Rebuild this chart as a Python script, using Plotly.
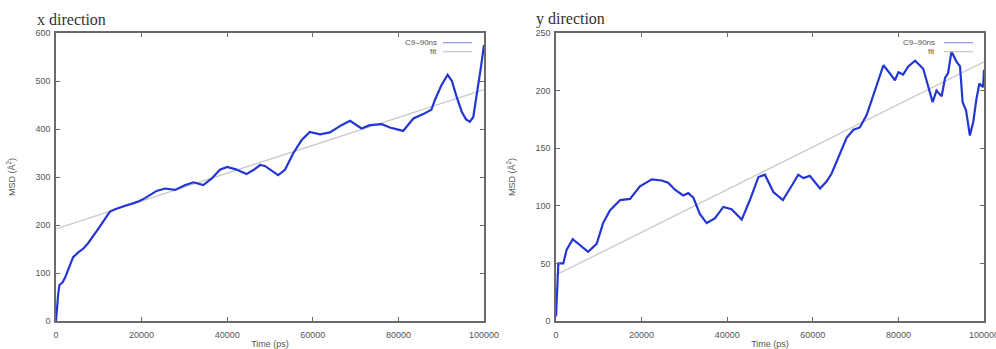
import plotly.graph_objects as go
from plotly.subplots import make_subplots

# MSD in x direction (Å^2) versus time (ps)
time_x = [0, 200, 500, 800, 1500, 2100, 3000, 4000, 5200, 6400, 7500, 8700, 9700, 10700,
          11700, 12600, 13800, 15000, 16500, 18000, 19500, 20800, 22200, 23500, 25500,
          27800, 30100, 32100, 34400, 36400, 38300, 40000, 42000, 44500, 46200, 47700,
          48800, 50300, 51900, 53500, 55400, 57400, 59300, 61700, 64000, 66700, 68700,
          71400, 73300, 76100, 78000, 81100, 83500, 85800, 87700, 88500, 90000, 91500,
          92500, 93500, 94800, 95800, 96700, 97500, 98500, 99300, 100000]
msd_x = [0, 30, 55, 75, 80, 90, 110, 133, 143, 151, 162, 176, 190, 203,
         216, 228, 233, 237, 241, 245, 250, 256, 264, 271, 276,
         273, 283, 289, 283, 297, 315, 321, 316, 306, 315, 325,
         323, 314, 304, 315, 349, 377, 394, 389, 393, 408, 417,
         401, 408, 410, 403, 396, 422, 431, 440, 460, 490, 513,
         500, 470, 436, 420, 415, 425, 480, 530, 575]

# MSD in y direction (Å^2) versus time (ps)
time_y = [0, 300, 550, 1700, 2500, 3900, 5600, 7500, 9500, 11000, 12600, 15000, 17300,
          19600, 22400, 24700, 26200, 27800, 29700, 30900, 32100, 33600, 35200, 37100,
          39100, 41000, 43400, 45300, 47300, 48800, 50800, 53000, 55000, 56600, 57800,
          59300, 61700, 63200, 64400, 66300, 67900, 69500, 71000, 72600, 74500, 76500,
          78000, 79200, 80000, 81100, 82300, 83900, 85800, 87000, 88000, 88900, 90100,
          90900, 91600, 92400, 93600, 94400, 95000, 95800, 96700, 97500, 98200, 98900,
          99800, 100000]
msd_y = [4, 34, 50, 50, 62, 71, 66, 60, 67, 85, 96, 105, 106,
         117, 123, 122, 120, 114, 109, 111, 107, 93, 85, 89,
         99, 97, 88, 105, 125, 127, 112, 105, 117, 127, 124,
         126, 115, 121, 128, 144, 159, 166, 168, 179, 200, 222,
         215, 209, 216, 214, 221, 226, 219, 202, 190, 200, 195,
         211, 215, 234, 225, 221, 190, 183, 161, 173, 192, 206,
         203, 218]

# Linear fits (end points)
fit_t = [0, 100000]
fit_x = [192, 482]
fit_y = [40, 225]

x_ticks = [0, 20000, 40000, 60000, 80000, 100000]

BLUE = "#2336d4"
GREY_FIT = "#c9c9c9"
AXIS = "#6a6a6a"
TICK_FONT = dict(family="Liberation Sans, Arial, sans-serif", size=9, color="#555555")

fig = make_subplots(rows=1, cols=2)

for col, (t, v, fv) in enumerate([(time_x, msd_x, fit_x), (time_y, msd_y, fit_y)], start=1):
    fig.add_trace(go.Scatter(x=fit_t, y=fv, mode="lines", name="fit",
                             line=dict(color=GREY_FIT, width=1.3), showlegend=False),
                  row=1, col=col)
    fig.add_trace(go.Scatter(x=t, y=v, mode="lines", name="C9\u201390ns",
                             line=dict(color=BLUE, width=2.2), showlegend=False),
                  row=1, col=col)

axis_common = dict(showgrid=False, zeroline=False, showline=True, linecolor=AXIS,
                   linewidth=1.5, mirror="ticks", ticks="inside", ticklen=4,
                   tickcolor=AXIS, tickwidth=1, tickfont=TICK_FONT, automargin=False)

fig.update_xaxes(range=[0, 100000], tickvals=x_ticks, ticktext=[str(v) for v in x_ticks],
                 ticklabelstandoff=4, ticklabeloverflow="allow",
                 title=dict(text="Time (ps)", font=TICK_FONT, standoff=4), **axis_common)
fig.update_xaxes(domain=[56 / 996, 484 / 996], row=1, col=1)
fig.update_xaxes(domain=[556 / 996, 984 / 996], row=1, col=2)

ydom = [28 / 349, 316 / 349]
fig.update_yaxes(domain=ydom, range=[0, 600], tickvals=[0, 100, 200, 300, 400, 500, 600],
                 ticklabelstandoff=2,
                 title=dict(text="MSD (\u00c5<sup>2</sup>)", font=TICK_FONT, standoff=18),
                 row=1, col=1, **axis_common)
fig.update_yaxes(domain=ydom, range=[0, 250], tickvals=[0, 50, 100, 150, 200, 250],
                 ticklabelstandoff=2,
                 title=dict(text="MSD (\u00c5<sup>2</sup>)", font=TICK_FONT, standoff=18),
                 row=1, col=2, **axis_common)

# Panel titles
for xpos, txt in [(35, "x direction"), (534, "y direction")]:
    fig.add_annotation(x=xpos / 996, y=1 - 19 / 349, xref="paper", yref="paper",
                       xanchor="left", yanchor="middle", showarrow=False, text=txt,
                       font=dict(family="Liberation Serif, Times New Roman, serif",
                                 size=16, color="#333333"))

# Key: right-aligned label followed by a line sample
key_font = dict(family="Liberation Sans, Arial, sans-serif", size=8, color="#555555")
for text_right, line_l, line_r in [(439, 443, 472), (937, 944, 973)]:
    for ypix, label, color in [(42.7, "C9\u201390ns", "#8f96e6"), (51.7, "fit", "#c4c4c4")]:
        yp = 1 - ypix / 349
        fig.add_annotation(x=text_right / 996, y=yp, xref="paper", yref="paper",
                           xanchor="right", yanchor="middle", showarrow=False,
                           text=label, font=key_font)
        fig.add_shape(type="line", xref="paper", yref="paper",
                      x0=line_l / 996, x1=line_r / 996, y0=yp, y1=yp,
                      line=dict(color=color, width=1.2))

fig.update_layout(width=996, height=349, margin=dict(l=0, r=0, t=0, b=0),
                  paper_bgcolor="white", plot_bgcolor="white", showlegend=False)

fig.write_html("out.html")
